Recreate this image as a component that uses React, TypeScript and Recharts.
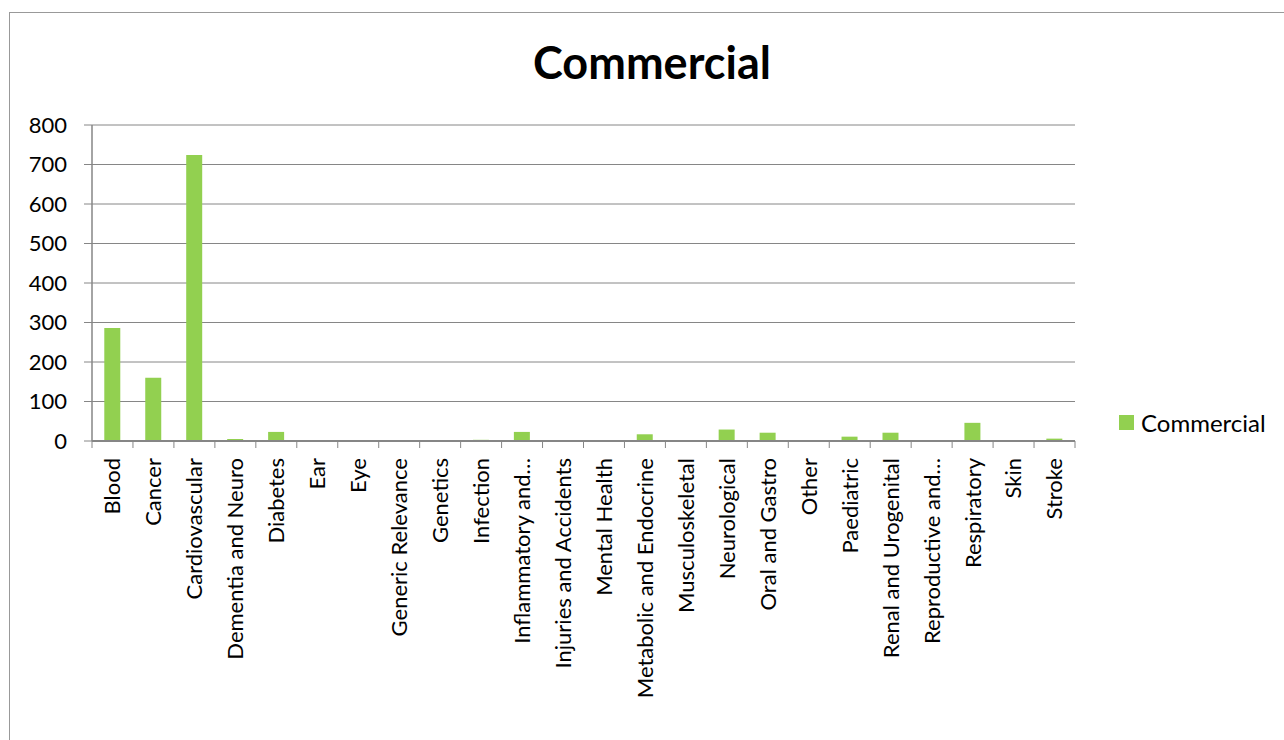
import React from 'react';
import { BarChart, Bar, XAxis, YAxis, CartesianGrid } from 'recharts';

const categories = [
  'Blood', 'Cancer', 'Cardiovascular', 'Dementia and Neuro', 'Diabetes', 'Ear', 'Eye',
  'Generic Relevance', 'Genetics', 'Infection', 'Inflammatory and…', 'Injuries and Accidents',
  'Mental Health', 'Metabolic and Endocrine', 'Musculoskeletal', 'Neurological', 'Oral and Gastro',
  'Other', 'Paediatric', 'Renal and Urogenital', 'Reproductive and…', 'Respiratory', 'Skin', 'Stroke',
];
const commercial = [286, 160, 724, 5, 23, 0, 0, 0, 0, 3, 23, 0, 0, 17, 0, 29, 21, 0, 11, 21, 0, 46, 0, 6];
const yTicks = [0, 100, 200, 300, 400, 500, 600, 700, 800];

const data = categories.map((name, i) => ({ name, commercial: commercial[i] }));

const FONT = 'Lato, "Open Sans", sans-serif';
const GREEN = '#92D050';
const GRID = '#868686';
const X_TICK_SIZE = 7;
const X_TICK_MARGIN = 10;

// category ticks sit between bars, so draw them at the band edges
const CategoryTick = (props: any) => {
  const { x, y, payload, width, visibleTicksCount, index } = props;
  const band = width / visibleTicksCount;
  const axisY = y - X_TICK_SIZE - X_TICK_MARGIN;
  return (
    <g>
      <line x1={x - band / 2} x2={x - band / 2} y1={axisY} y2={axisY + X_TICK_SIZE} stroke={GRID} />
      {index === visibleTicksCount - 1 && (
        <line x1={x + band / 2} x2={x + band / 2} y1={axisY} y2={axisY + X_TICK_SIZE} stroke={GRID} />
      )}
      <text
        x={x}
        y={y}
        dy="0.36em"
        transform={`rotate(-90, ${x}, ${y})`}
        textAnchor="end"
        fontSize={22}
        fontFamily={FONT}
        fill="#000"
      >
        {payload.value}
      </text>
    </g>
  );
};

export default function App() {
  return (
    <div style={{ position: 'absolute', left: 0, top: 0, width: 1284, height: 740, background: '#fff', overflow: 'hidden' }}>
      <div style={{ position: 'absolute', left: 9, top: 12, width: 1300, height: 800, border: '1.5px solid #999', boxSizing: 'border-box' }} />
      <div style={{ position: 'absolute', left: 0, width: 1304, top: 35, textAlign: 'center', fontFamily: FONT, fontWeight: 700, fontSize: 45, color: '#000' }}>
        Commercial
      </div>
      <div style={{ position: 'absolute', left: 0, top: 0 }}>
        <BarChart
          width={1284}
          height={740}
          data={data}
          margin={{ top: 125, right: 209, left: 14, bottom: 9 }}
          barCategoryGap="30%"
        >
          <CartesianGrid vertical={false} stroke={GRID} strokeWidth={1} />
          <XAxis
            dataKey="name"
            interval={0}
            height={290}
            tick={<CategoryTick />}
            tickLine={false}
            tickSize={X_TICK_SIZE}
            tickMargin={X_TICK_MARGIN}
            axisLine={{ stroke: GRID, strokeWidth: 2 }}
          />
          <YAxis
            domain={[0, 800]}
            ticks={yTicks}
            width={78}
            tickSize={8}
            tickMargin={17}
            tickLine={{ stroke: GRID }}
            axisLine={{ stroke: GRID, strokeWidth: 1.5 }}
            tick={{ fontSize: 22, fontFamily: FONT, fill: '#000' }}
          />
          <Bar dataKey="commercial" fill={GREEN} isAnimationActive={false} />
        </BarChart>
      </div>
      <div style={{ position: 'absolute', left: 1119, top: 408, display: 'flex', alignItems: 'center', fontFamily: FONT, fontSize: 24, color: '#000' }}>
        <span style={{ display: 'inline-block', width: 15, height: 15, background: GREEN, marginRight: 7 }} />
        Commercial
      </div>
    </div>
  );
}
